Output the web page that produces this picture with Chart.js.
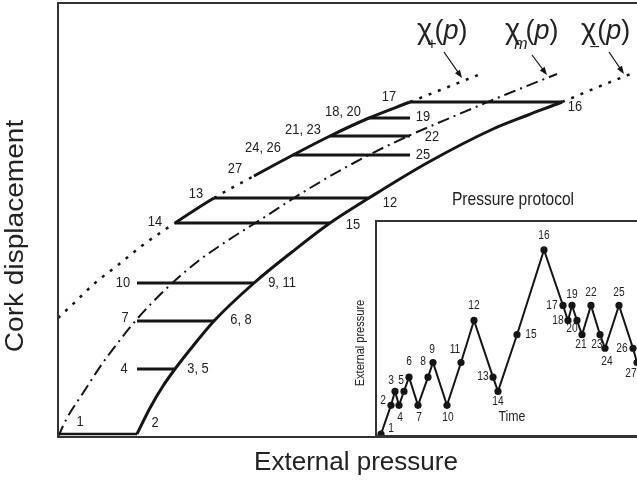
<!DOCTYPE html>
<html>
<head>
<meta charset="utf-8">
<script src="https://cdn.jsdelivr.net/npm/chart.js@4"></script>
<style>
html,body{margin:0;padding:0;background:#fff;overflow:hidden;width:637px;height:483px;}
#wrap{position:relative;width:637px;height:483px;overflow:hidden;background:#fff;}
#main{position:absolute;left:0;top:0;}
#inset{position:absolute;left:340px;top:180px;}
</style>
</head>
<body>
<div id="wrap">
<canvas id="main" width="660" height="483"></canvas>
<canvas id="inset" width="346" height="260"></canvas>
</div>
<script>
// ---------------- DATA ----------------
// pressure protocol events 1..27
const eventPressure = [0,79,117,79,117,156,79,156,196,79,196,311,156,117,272,504,352,311,352,311,272,352,272,235,352,235,196];
const eventDisplacement = [3,3,68,68,68,116,116,116,154,154,154,239,239,214,214,335,335,319,319,319,301,301,301,282,282,282,261];
const eventTime = [5,15,19,23,28,33,42,52,57,71,85,98,117,122,141,168,187,192,196,201,206,215,224,229,243,257,261];

// boundary curves
const chiPlusPressure = [0,14,37,60,85,117,156,196,235,272,311,352,390,425];
const chiPlusDisp     = [119,132,154,172,192,214,239,261,282,301,319,335,350,364];
const chiMinusPressure = [79,92,105,117,135,156,196,234,272,311,369,435,470,504,540,575];
const chiMinusDisp     = [3,29,51,68,91,116,154,185,214,239,274,308,322,335,350,364];
const chiMidPressure = [0,9,25,44,62,79,109,139,169,202,252,305,348,399,449,499];
const chiMidDisp     = [0,19,44,73,97,118,149,175,196,217,249,279,300,322,343,363];

// parts of the boundary curves that are traversed (solid)
const chiPlusSolid  = [0,0,0,0,0,1,0,1,1,1,1,0,0];
const chiMinusSolid = [1,1,1,1,1,1,1,1,1,1,1,1,1,0,0];

// horizontal (constant displacement) branches: [from event, to event]
const flatBranches = [[1,2],[4,3],[7,6],[10,9],[14,15],[13,12],[24,25],[21,22],[18,19],[17,16]];

// labels on main chart
const mainLabelText  = ['1','2','4','3, 5','7','6, 8','10','9, 11','14','15','13','12','27','24, 26','21, 23','18, 20','17','19','22','25','16'];
const mainLabelEvent = [1,2,4,3,7,6,10,9,14,15,13,12,27,24,21,18,17,19,22,25,16];

// ---------------- STYLE ----------------
const INK = '#151515';
const TXT = '#222';
const FAM = '"Liberation Sans", Arial, sans-serif';
const mainLabelOffset = [[22,-12],[18,-11],[-13,0],[23,0],[-12,-3],[27,-1],[-14,0],[28,0],[-20,-1],[23,2],[-18,-4],[21,5],[-19,-7],[-30,-7],[-27,-6],[-26,-6],[-21,-5],[13,-1],[22,1],[13,0],[13,5]];
const insetLabelOffset = [[10,-5],[-8,-5],[-4,-11],[1,12],[-3,-11],[0,-15],[1,12],[-5,-15],[-1,-13],[1,12],[-6,-13],[0,-15],[-10,0],[0,10],[14,0],[0,-14],[-11,0],[-10,0],[0,-11],[-5,8],[-1,10],[0,-13],[-3,10],[2,13],[0,-13],[-11,0],[-6,11]];

function drawText(ctx, text, x, y, size, k, align, baseline, rot, italic){
  ctx.save();
  ctx.translate(x, y);
  if (rot) ctx.rotate(rot);
  ctx.scale(k || 1, 1);
  ctx.font = (italic ? 'italic ' : '') + size + 'px ' + FAM;
  ctx.textAlign = align || 'center';
  ctx.textBaseline = baseline || 'middle';
  ctx.fillStyle = TXT;
  ctx.fillText(text, 0, 0);
  ctx.restore();
}
function arrow(ctx, x1, y1, x2, y2){
  const a = Math.atan2(y2 - y1, x2 - x1);
  ctx.save();
  ctx.strokeStyle = INK; ctx.fillStyle = INK; ctx.lineWidth = 1.2;
  ctx.beginPath(); ctx.moveTo(x1, y1);
  ctx.lineTo(x2 - 5 * Math.cos(a), y2 - 5 * Math.sin(a)); ctx.stroke();
  ctx.beginPath();
  ctx.moveTo(x2, y2);
  ctx.lineTo(x2 - 8 * Math.cos(a) + 3 * Math.sin(a), y2 - 8 * Math.sin(a) - 3 * Math.cos(a));
  ctx.lineTo(x2 - 8 * Math.cos(a) - 3 * Math.sin(a), y2 - 8 * Math.sin(a) + 3 * Math.cos(a));
  ctx.closePath(); ctx.fill();
  ctx.restore();
}
function chiLabel(ctx, x, base, sub, subItalic, subDx, subDy){
  ctx.save();
  ctx.fillStyle = TXT;
  ctx.textBaseline = 'alphabetic'; ctx.textAlign = 'left';
  ctx.font = '29px ' + FAM;
  ctx.fillText('\u03C7', x, base);
  const wc = ctx.measureText('\u03C7').width;
  ctx.font = (subItalic ? 'italic ' : '') + '16px ' + FAM;
  const sx = x + wc + subDx;
  ctx.fillText(sub, sx, base + subDy);
  const ws = ctx.measureText(sub).width;
  let cx = Math.max(sx + ws - 2, x + wc + 1);
  ctx.font = '27px ' + FAM;
  ctx.fillText('(', cx, base); cx += ctx.measureText('(').width;
  ctx.font = 'italic 27px ' + FAM;
  ctx.fillText('p', cx, base); cx += ctx.measureText('p').width;
  ctx.font = '27px ' + FAM;
  ctx.fillText(')', cx, base);
  ctx.restore();
}

// ---------------- MAIN CHART ----------------
const pts = (xs, ys) => xs.map((x, i) => ({x: x, y: ys[i]}));
const dotted = [3, 7];
const dashDot = [12, 5, 2, 5];

const datasets = [];
datasets.push({
  label: 'chi+', data: pts(chiPlusPressure, chiPlusDisp),
  showLine: true, pointRadius: 0, borderColor: INK, borderWidth: 2.5,
  cubicInterpolationMode: 'monotone',
  segment: {
    borderDash: c => chiPlusSolid[c.p0DataIndex] ? [] : dotted,
    borderWidth: c => chiPlusSolid[c.p0DataIndex] ? 3 : 2.5
  }
});
datasets.push({
  label: 'chi-', data: pts(chiMinusPressure, chiMinusDisp),
  showLine: true, pointRadius: 0, borderColor: INK, borderWidth: 3,
  cubicInterpolationMode: 'monotone',
  segment: {
    borderDash: c => chiMinusSolid[c.p0DataIndex] ? [] : dotted,
    borderWidth: c => chiMinusSolid[c.p0DataIndex] ? 3 : 2.5
  }
});
datasets.push({
  label: 'chim', data: pts(chiMidPressure, chiMidDisp),
  showLine: true, pointRadius: 0, borderColor: INK, borderWidth: 2,
  borderDash: dashDot, cubicInterpolationMode: 'monotone'
});
flatBranches.forEach(([a, b], i) => {
  datasets.push({
    label: 'flat' + i,
    data: [{x: eventPressure[a-1], y: eventDisplacement[a-1]}, {x: eventPressure[b-1], y: eventDisplacement[b-1]}],
    showLine: true, pointRadius: 0, borderColor: INK, borderWidth: i === 0 ? 2.5 : 3
  });
});

const mainDecor = {
  id: 'mainDecor',
  afterDraw(chart){
    const {ctx, chartArea: ca, scales: {x, y}} = chart;
    ctx.save();
    ctx.strokeStyle = '#333'; ctx.lineWidth = 2;
    ctx.strokeRect(ca.left, ca.top, ca.right - ca.left, ca.bottom - ca.top);
    ctx.restore();
    drawText(ctx, 'Cork displacement', 16, 236, 26, 1.08, 'center', 'middle', -Math.PI / 2);
    drawText(ctx, 'External pressure', 356, 463, 26, 1, 'center', 'middle');
    mainLabelText.forEach((t, i) => {
      const e = mainLabelEvent[i] - 1;
      const px = x.getPixelForValue(eventPressure[e]) + mainLabelOffset[i][0];
      const py = y.getPixelForValue(eventDisplacement[e]) + mainLabelOffset[i][1];
      drawText(ctx, t, px, py, 14, 0.92, 'center', 'middle');
    });
    chiLabel(ctx, 417, 39, '+', false, -5, 10);
    chiLabel(ctx, 505, 39, 'm', true, -6, 10);
    chiLabel(ctx, 581, 39, '\u2013', false, -6, 12);
    arrow(ctx, 444, 52, 462, 78);
    arrow(ctx, 532, 55, 547, 75);
    arrow(ctx, 609, 52, 624, 74);
  }
};

new Chart(document.getElementById('main'), {
  type: 'scatter',
  data: {datasets},
  options: {
    responsive: false, animation: false, devicePixelRatio: 1,
    layout: {padding: {left: 58, top: 3, right: 5, bottom: 46}},
    plugins: {legend: {display: false}, tooltip: {enabled: false}},
    scales: {
      x: {type: 'linear', display: false, min: 0, max: 597},
      y: {type: 'linear', display: false, min: 0, max: 434}
    }
  },
  plugins: [mainDecor]
});

// ---------------- INSET CHART ----------------
const insetDecor = {
  id: 'insetDecor',
  beforeDraw(chart){
    const {ctx, chartArea: ca} = chart;
    ctx.save(); ctx.fillStyle = '#fff';
    ctx.fillRect(ca.left, ca.top, ca.right - ca.left, ca.bottom - ca.top);
    ctx.restore();
  },
  afterDraw(chart){
    const {ctx, chartArea: ca, scales: {x, y}} = chart;
    ctx.save();
    ctx.strokeStyle = '#333'; ctx.lineWidth = 2;
    ctx.strokeRect(ca.left, ca.top, ca.right - ca.left, ca.bottom - ca.top);
    ctx.restore();
    drawText(ctx, 'Pressure protocol', ca.left + 137, ca.top - 21, 19, 0.82, 'center', 'middle');
    drawText(ctx, 'External pressure', ca.left - 15, ca.top + 122, 12, 0.92, 'center', 'middle', -Math.PI / 2);
    drawText(ctx, 'Time', ca.left + 136, ca.bottom - 19, 14, 0.88, 'center', 'middle');
    eventTime.forEach((t, i) => {
      const px = x.getPixelForValue(t) + insetLabelOffset[i][0];
      const py = y.getPixelForValue(eventPressure[i]) + insetLabelOffset[i][1];
      drawText(ctx, String(i + 1), px, py, 12, 0.85, 'center', 'middle');
    });
  }
};

new Chart(document.getElementById('inset'), {
  type: 'scatter',
  data: {datasets: [{
    label: 'protocol', data: pts(eventTime, eventPressure),
    showLine: true, borderColor: INK, borderWidth: 2,
    pointRadius: 3.6, pointBackgroundColor: INK, pointBorderColor: INK, pointBorderWidth: 0
  }]},
  options: {
    responsive: false, animation: false, devicePixelRatio: 1,
    layout: {padding: {left: 36, top: 41, right: 5, bottom: 3}},
    plugins: {legend: {display: false}, tooltip: {enabled: false}},
    scales: {
      x: {type: 'linear', display: false, min: 0, max: 305},
      y: {type: 'linear', display: false, min: -5, max: 583}
    }
  },
  plugins: [insetDecor]
});
</script>
</body>
</html>
